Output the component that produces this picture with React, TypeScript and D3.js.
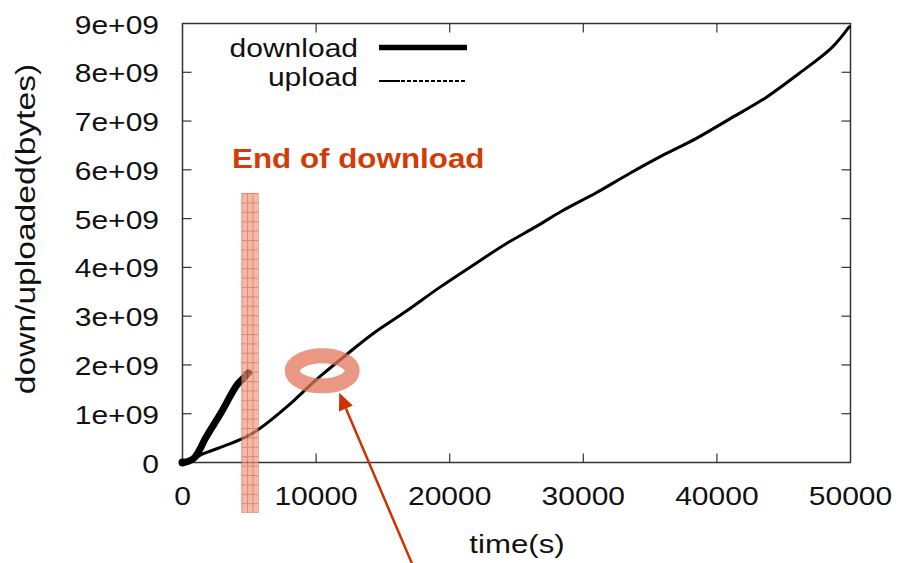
import React from "react";
import * as d3 from "d3";

// ---- data ----
const uploadTime = [0, 800, 1570, 2840, 4480, 5600, 8060, 9030, 10450, 12310, 14250, 16790, 19250, 21720, 24250, 26490, 28430, 30970, 33430, 35900, 38430, 41120, 43660, 46120, 48580, 49900];
const uploadBytes = [0, 0.07e9, 0.18e9, 0.31e9, 0.49e9, 0.66e9, 1.2e9, 1.45e9, 1.8e9, 2.22e9, 2.64e9, 3.11e9, 3.59e9, 4.04e9, 4.49e9, 4.84e9, 5.16e9, 5.53e9, 5.92e9, 6.29e9, 6.64e9, 7.07e9, 7.48e9, 7.97e9, 8.5e9, 8.93e9];
const downloadTime = [0, 500, 900, 1300, 1700, 2840, 4080, 4600, 4950];
const downloadBytes = [0, 0.03e9, 0.1e9, 0.27e9, 0.49e9, 1.0e9, 1.59e9, 1.74e9, 1.84e9];
const xTicks = [0, 10000, 20000, 30000, 40000, 50000];
const xTickLabels = ["0", "10000", "20000", "30000", "40000", "50000"];
const yTicks = [0, 1e9, 2e9, 3e9, 4e9, 5e9, 6e9, 7e9, 8e9, 9e9];
const yTickLabels = ["0", "1e+09", "2e+09", "3e+09", "4e+09", "5e+09", "6e+09", "7e+09", "8e+09", "9e+09"];
const seriesNames = ["download", "upload"];
const endOfDownloadSpan = [4400, 5700];
const highlightPoint = [10460, 1.9e9];

const W = 899;
const H = 563;
const FONT = "'Liberation Sans', Arial, Helvetica, sans-serif";
const SX = 1.2;

function T({ x, y, children, anchor = "start", size = 25, sx = SX, rotate = 0, fill = "#111", weight = "normal" }: any) {
  return (
    <text
      transform={`translate(${x},${y}) rotate(${rotate}) scale(${sx},1)`}
      textAnchor={anchor}
      fontFamily={FONT}
      fontSize={size}
      fontWeight={weight}
      fill={fill}
    >
      {children}
    </text>
  );
}

export default function App() {
  const x = d3.scaleLinear().domain([0, 50000]).range([182.5, 850.5]);
  const y = d3.scaleLinear().domain([0, 9e9]).range([462.5, 23.5]);
  const [x0, x1] = x.range();
  const [y0, y1] = y.range();

  const line = d3
    .line<[number, number]>()
    .x((d) => x(d[0]))
    .y((d) => y(d[1]))
    .curve(d3.curveCatmullRom.alpha(0.5));

  const up = uploadTime.map((t, i) => [t, uploadBytes[i]] as [number, number]);
  const down = downloadTime.map((t, i) => [t, downloadBytes[i]] as [number, number]);

  const barX0 = x(endOfDownloadSpan[0]);
  const barX1 = x(endOfDownloadSpan[1]);
  const barTop = 193;
  const barBot = 513;

  const cx = x(highlightPoint[0]);
  const cy = y(highlightPoint[1]) + 1;

  const tipX = cx + 17;
  const tipY = cy + 22;
  const tailX = 413;
  const tailY = 566;
  const ang = Math.atan2(tipY - tailY, tipX - tailX);
  const ah = 17, aw = 7.5;
  const bx = tipX - ah * Math.cos(ang);
  const by = tipY - ah * Math.sin(ang);
  const px = -Math.sin(ang), py = Math.cos(ang);

  const red = "#cc3300";

  return (
    <svg width={W} height={H} style={{ position: "absolute", left: 0, top: 0, background: "#fff" }}>
      <defs>
        <pattern id="hatch" patternUnits="userSpaceOnUse" x={barX0} y={barTop} width={5.6} height={9.4}>
          <rect width={5.6} height={9.4} fill="#eb9c84" />
          <line x1={0.5} y1={0} x2={0.5} y2={9.4} stroke="#d9502c" strokeWidth={1} />
          <line x1={0} y1={0.5} x2={5.6} y2={0.5} stroke="#d9502c" strokeWidth={1} />
        </pattern>
      </defs>
      <rect width={W} height={H} fill="#fff" />

      {/* frame */}
      <rect x={x0} y={y1} width={x1 - x0} height={y0 - y1} fill="none" stroke="#333" strokeWidth={1.5} />
      {xTicks.slice(1, -1).map((t) => (
        <g key={"xt" + t}>
          <line x1={x(t)} x2={x(t)} y1={y0} y2={y0 - 9} stroke="#333" strokeWidth={1.2} />
          <line x1={x(t)} x2={x(t)} y1={y1} y2={y1 + 9} stroke="#333" strokeWidth={1.2} />
        </g>
      ))}
      {yTicks.slice(1, -1).map((t) => (
        <g key={"yt" + t}>
          <line x1={x0} x2={x0 + 9} y1={y(t)} y2={y(t)} stroke="#333" strokeWidth={1.2} />
          <line x1={x1} x2={x1 - 9} y1={y(t)} y2={y(t)} stroke="#333" strokeWidth={1.2} />
        </g>
      ))}
      {xTicks.map((t, i) => (
        <T key={"xl" + t} x={x(t)} y={505} anchor="middle">{xTickLabels[i]}</T>
      ))}
      {yTicks.map((t, i) => (
        <T key={"yl" + t} x={159} y={y(t) + 10} anchor="end">{yTickLabels[i]}</T>
      ))}
      <T x={517} y={553} anchor="middle" size={26}>time(s)</T>
      <T x={35} y={229} anchor="middle" size={28} rotate={-90}>down/uploaded(bytes)</T>

      {/* series */}
      <path d={line(up) || ""} fill="none" stroke="#000" strokeWidth={3} strokeLinejoin="round" strokeLinecap="round" />
      <path d={line(down) || ""} fill="none" stroke="#000" strokeWidth={7} strokeLinejoin="round" strokeLinecap="round" />
      <circle cx={x(0)} cy={y(0)} r={4} fill="#000" />

      {/* legend */}
      <T x={358} y={57} anchor="end">{seriesNames[0]}</T>
      <T x={358} y={86} anchor="end">{seriesNames[1]}</T>
      <line x1={379} x2={467} y1={47.5} y2={47.5} stroke="#000" strokeWidth={5.5} />
      <line x1={379} x2={400} y1={81} y2={81} stroke="#000" strokeWidth={2} />
      <line x1={401} x2={467} y1={81} y2={81} stroke="#000" strokeWidth={2} strokeDasharray="4 2" />

      {/* annotations */}
      <rect x={barX0} y={barTop} width={barX1 - barX0} height={barBot - barTop} fill="url(#hatch)" opacity={0.7} />
      <T x={232} y={168} size={28} sx={1.12} weight="bold" fill="#d23c06">End of download</T>
      <ellipse cx={cx} cy={cy} rx={30} ry={15} fill="none" stroke="#e3765a" strokeOpacity={0.75} strokeWidth={15} />
      <line x1={tailX} y1={tailY} x2={bx} y2={by} stroke={red} strokeWidth={2.5} />
      <polygon points={`${tipX},${tipY} ${bx + px * aw},${by + py * aw} ${bx - px * aw},${by - py * aw}`} fill={red} />
    </svg>
  );
}
